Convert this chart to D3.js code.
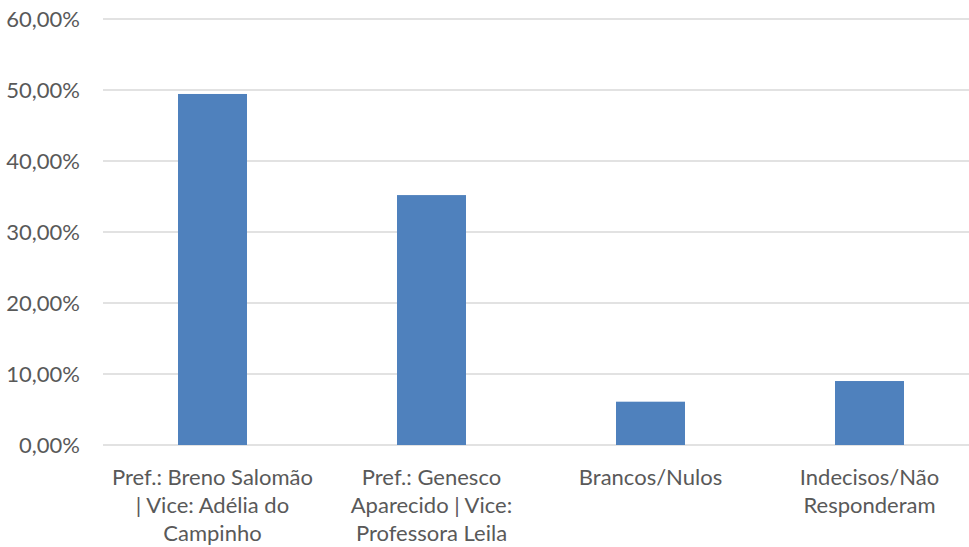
<!DOCTYPE html>
<html>
<head>
<meta charset="utf-8">
<script src="https://cdn.jsdelivr.net/npm/d3@7"></script>
<style>
  body { margin: 0; background: #fff; }
  svg { display: block; }
</style>
</head>
<body>
<div id="chart"></div>
<script>
// categories (label lines as shown in the chart)
var categories = ['breno', 'genesco', 'brancos', 'indecisos'];
var categoryLines = [
    ['Pref.: Breno Salomão', '| Vice: Adélia do', 'Campinho'],
    ['Pref.: Genesco', 'Aparecido | Vice:', 'Professora Leila'],
    ['Brancos/Nulos'],
    ['Indecisos/Não', 'Responderam']
];
var values = [0.4944, 0.3520, 0.0610, 0.0901];
var yTicks = [0, 0.1, 0.2, 0.3, 0.4, 0.5, 0.6];

var W = 969, H = 547;
var margin = { top: 19, right: -10, bottom: 102, left: 103 },
    width = W - margin.left - margin.right,
    height = H - margin.top - margin.bottom;

var svg = d3.select('#chart')
    .append('svg')
    .attr('width', W)
    .attr('height', H);

var g = svg.append('g')
    .attr('transform', 'translate(' + margin.left + ',' + margin.top + ')');

var x = d3.scaleBand()
    .domain(categories)
    .range([0, width])
    .paddingInner(0.685)
    .paddingOuter(0.3425);

var y = d3.scaleLinear()
    .domain([0, 0.6])
    .range([height, 0]);

var fmt = function(d) {
    return d3.format('.2f')(d * 100).replace('.', ',') + '%';
};

// gridlines
g.append('g')
    .selectAll('line')
    .data(yTicks)
    .enter()
    .append('line')
    .attr('x1', 0)
    .attr('x2', width)
    .attr('y1', d => y(d))
    .attr('y2', d => y(d))
    .attr('stroke', '#d9d9d9')
    .attr('stroke-width', 1.3);

// y axis labels
var yAxis = g.append('g')
    .call(d3.axisLeft(y).tickValues(yTicks).tickFormat(fmt).tickSize(0).tickPadding(23));
yAxis.select('.domain').remove();
yAxis.selectAll('text')
    .attr('fill', '#595959')
    .style('font-family', 'Lato, "Open Sans", sans-serif')
    .style('font-size', '22px');

// bars
g.selectAll('.bar')
    .data(values)
    .enter()
    .append('rect')
    .attr('class', 'bar')
    .attr('x', (d, i) => x(categories[i]))
    .attr('y', d => y(d))
    .attr('width', x.bandwidth())
    .attr('height', d => height - y(d))
    .attr('fill', '#4f81bd');

// category labels
var labels = g.append('g')
    .selectAll('text')
    .data(categories)
    .enter()
    .append('text')
    .attr('x', d => x(d) + x.bandwidth() / 2)
    .attr('y', height + 40)
    .attr('text-anchor', 'middle')
    .attr('fill', '#595959')
    .style('font-family', 'Lato, "Open Sans", sans-serif')
    .style('font-size', '22px');

labels.selectAll('tspan')
    .data((d, i) => categoryLines[i])
    .enter()
    .append('tspan')
    .attr('x', function() { return this.parentNode.getAttribute('x'); })
    .attr('dy', (d, i) => i === 0 ? 0 : 28)
    .text(d => d);
</script>
</body>
</html>
